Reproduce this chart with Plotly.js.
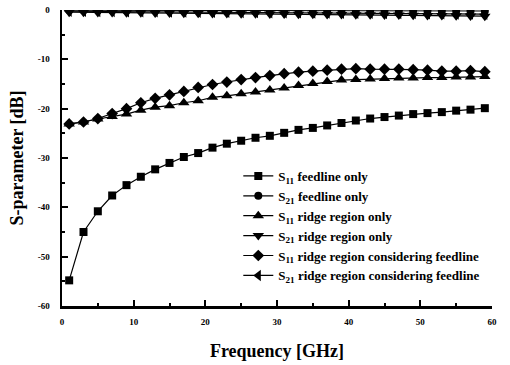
<!DOCTYPE html>
<html>
<head>
<meta charset="utf-8">
<script src="https://cdn.plot.ly/plotly-3.0.1.min.js"></script>
<style>html,body{margin:0;padding:0;background:#fff;}#chart{width:510px;height:365px;}</style>
</head>
<body>
<div id="chart"></div>
<script>
const freq = [1,3,5,7,9,11,13,15,17,19,21,23,25,27,29,31,33,35,37,39,41,43,45,47,49,51,53,55,57,59];
const s11Feed = [-54.8,-45.0,-40.8,-37.6,-35.5,-33.8,-32.3,-31.0,-29.8,-29.0,-27.9,-27.1,-26.5,-25.9,-25.5,-24.9,-24.3,-23.9,-23.4,-22.9,-22.4,-22.0,-21.7,-21.4,-21.1,-20.9,-20.7,-20.4,-20.2,-19.9];
const s21Feed = [-0.05,-0.05,-0.06,-0.06,-0.07,-0.07,-0.08,-0.08,-0.09,-0.09,-0.10,-0.10,-0.11,-0.11,-0.12,-0.12,-0.13,-0.13,-0.14,-0.14,-0.15,-0.15,-0.16,-0.16,-0.17,-0.17,-0.18,-0.18,-0.19,-0.2];
const s11Ridge = [-23.1,-22.7,-22.1,-21.6,-21.1,-20.3,-19.7,-19.4,-18.8,-18.4,-17.7,-17.4,-17.0,-16.6,-16.2,-15.8,-15.3,-14.9,-14.5,-14.2,-14.1,-14.0,-13.9,-13.8,-13.8,-13.7,-13.7,-13.6,-13.6,-13.5];
const s21Ridge = [-0.45,-0.48,-0.5,-0.52,-0.55,-0.58,-0.6,-0.62,-0.65,-0.68,-0.7,-0.72,-0.75,-0.78,-0.8,-0.83,-0.86,-0.88,-0.9,-0.93,-0.96,-0.98,-1.0,-1.03,-1.06,-1.1,-1.13,-1.17,-1.2,-1.25];
const s11Cons = [-23.1,-22.7,-22.0,-21.0,-20.0,-18.8,-17.9,-17.2,-16.5,-15.7,-15.1,-14.6,-14.1,-13.7,-13.3,-12.9,-12.6,-12.4,-12.2,-12.0,-11.9,-12.0,-12.0,-12.0,-12.1,-12.2,-12.4,-12.4,-12.3,-12.5];
const s21Cons = [-0.25,-0.27,-0.29,-0.31,-0.33,-0.35,-0.37,-0.39,-0.41,-0.43,-0.45,-0.47,-0.49,-0.51,-0.53,-0.55,-0.57,-0.59,-0.61,-0.63,-0.65,-0.67,-0.69,-0.71,-0.73,-0.75,-0.77,-0.79,-0.81,-0.85];
const seriesNames = [
  "S<sub>11</sub> feedline only",
  "S<sub>21</sub> feedline only",
  "S<sub>11</sub> ridge region only",
  "S<sub>21</sub> ridge region only",
  "S<sub>11</sub> ridge region considering feedline",
  "S<sub>21</sub> ridge region considering feedline"
];
const seriesData = [s11Feed, s21Feed, s11Ridge, s21Ridge, s11Cons, s21Cons];
const symbols = ["square","circle","triangle-up","triangle-down","diamond","triangle-left"];
const symbolSizes = [8, 8, 10, 10, 9, 10];
const xTicks = [0,10,20,30,40,50,60];
const yTicks = [0,-10,-20,-30,-40,-50,-60];

const traces = seriesData.map((d,i)=>({
  x: freq, y: d, name: seriesNames[i], type: 'scatter', mode: 'lines+markers',
  line: {color:'#000', width:1.2},
  marker: {symbol: symbols[i], size: symbolSizes[i], color:'#000'}
}));

const serif = "Liberation Serif, Times New Roman, serif";
const layout = {
  width: 510, height: 365,
  margin: {l: 62, r: 18, t: 10, b: 59},
  paper_bgcolor: '#fff', plot_bgcolor: '#fff',
  showlegend: true,
  legend: {x: 0.41, y: 0.49, xanchor: 'left', yanchor: 'top',
    bgcolor: 'rgba(0,0,0,0)', font: {family: serif, size: 13, color:'#000', weight: 'bold'},
    tracegroupgap: 0, itemwidth: 30},
  xaxis: {
    range: [0, 60], tickvals: xTicks, ticktext: xTicks.map(String),
    showgrid: false, zeroline: false, showline: true, linewidth: 2.5, linecolor: '#000',
    ticks: 'inside', ticklen: 6, tickwidth: 2, tickcolor: '#000',
    minor: {dtick: 5, ticks: 'inside', ticklen: 3, tickwidth: 2, tickcolor: '#000'},
    tickfont: {family: serif, size: 9, color: '#000', weight: 'bold'},
    ticklabelstandoff: 6,
    title: {text: 'Frequency [GHz]', font: {family: serif, size: 18, color: '#000', weight: 'bold'}, standoff: 18}
  },
  yaxis: {
    range: [-60, 0], tickvals: yTicks, ticktext: yTicks.map(String),
    showgrid: false, zeroline: false, showline: true, linewidth: 2.5, linecolor: '#000',
    ticks: 'inside', ticklen: 6, tickwidth: 2, tickcolor: '#000',
    minor: {dtick: 5, ticks: 'inside', ticklen: 3, tickwidth: 2, tickcolor: '#000'},
    tickfont: {family: serif, size: 9, color: '#000', weight: 'bold'},
    ticklabelstandoff: 8,
    title: {text: 'S-parameter [dB]', font: {family: serif, size: 18, color: '#000', weight: 'bold'}, standoff: 10}
  }
};
Plotly.newPlot('chart', traces, layout, {displayModeBar: false, staticPlot: true});
</script>
</body>
</html>
